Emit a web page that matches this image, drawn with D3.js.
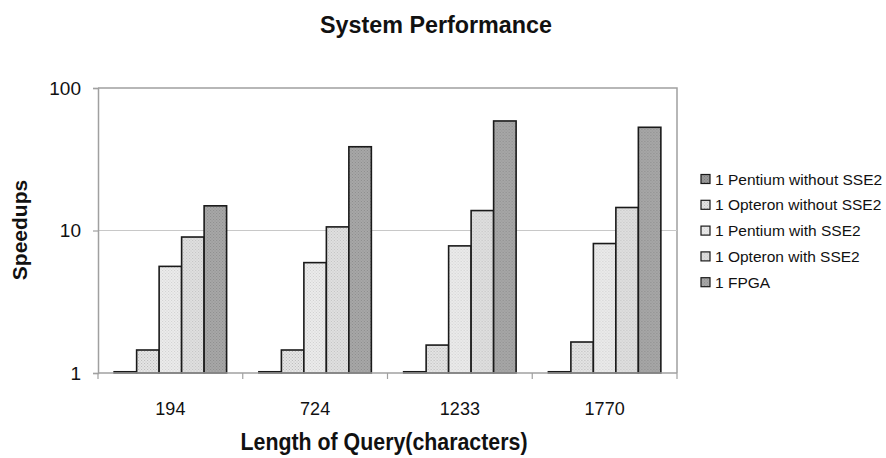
<!DOCTYPE html>
<html>
<head>
<meta charset="utf-8">
<script src="https://cdn.jsdelivr.net/npm/d3@7"></script>
<style>
  html, body { margin: 0; padding: 0; background: #fff; }
  svg { display: block; }
  text { font-family: "Liberation Sans", Arial, sans-serif; fill: #111; }
</style>
</head>
<body>
<svg id="chart" width="886" height="458"></svg>
<script>
// Query lengths (characters) on the x axis
const categories = ["194", "724", "1233", "1770"];

// Processor configurations, in drawing order within each group
const seriesNames = [
  "1 Pentium without SSE2",
  "1 Opteron without SSE2",
  "1 Pentium with SSE2",
  "1 Opteron with SSE2",
  "1 FPGA"
];

// Speedups per configuration, one value per query length
const pentiumNoSSE2 = [1.02, 1.02, 1.02, 1.02];
const opteronNoSSE2 = [1.45, 1.45, 1.57, 1.65];
const pentiumSSE2   = [5.6, 5.95, 7.8, 8.1];
const opteronSSE2   = [9.0, 10.6, 13.8, 14.5];
const fpga          = [14.9, 38.7, 58.7, 53.0];

const seriesValues = [pentiumNoSSE2, opteronNoSSE2, pentiumSSE2, opteronSSE2, fpga];

// Log axis tick values
const yTicks = [1, 10, 100];

const svg = d3.select("#chart");
const plot = { left: 98, top: 88, right: 677, bottom: 373 };

// Fill textures for each configuration
const textures = [
  { base: "#9a9a9a", dot: "#7d7d7d" },
  { base: "#e6e6e6", dot: "#b8b8b8" },
  { base: "#ececec", dot: "#cfcfcf" },
  { base: "#e0e0e0", dot: "#c2c2c2" },
  { base: "#a8a8a8", dot: "#8c8c8c" }
];
const defs = svg.append("defs");
textures.forEach((t, i) => {
  const p = defs.append("pattern")
    .attr("id", "tex" + i)
    .attr("patternUnits", "userSpaceOnUse")
    .attr("width", 3).attr("height", 3);
  p.append("rect").attr("width", 3).attr("height", 3).attr("fill", t.base);
  p.append("rect").attr("x", 0).attr("y", 0).attr("width", 1).attr("height", 1).attr("fill", t.dot);
  p.append("rect").attr("x", 1.5).attr("y", 1.5).attr("width", 1).attr("height", 1).attr("fill", t.dot);
});

const x0 = d3.scaleBand()
  .domain(categories)
  .range([plot.left, plot.right])
  .paddingInner(0.223)
  .paddingOuter(0.1115);

const x1 = d3.scaleBand()
  .domain(d3.range(seriesNames.length))
  .range([0, x0.bandwidth()]);

const y = d3.scaleLog()
  .domain([1, 100])
  .range([plot.bottom, plot.top]);

// Plot frame (top and right edges)
svg.append("path")
  .attr("d", `M${plot.left},${plot.top}H${plot.right}V${plot.bottom}`)
  .attr("fill", "none")
  .attr("stroke", "#a0a0a0")
  .attr("stroke-width", 1.5);

// Gridline at intermediate decade
svg.append("g")
  .selectAll("line")
  .data(yTicks.filter(v => v > 1 && v < 100))
  .join("line")
  .attr("x1", plot.left).attr("x2", plot.right)
  .attr("y1", d => y(d)).attr("y2", d => y(d))
  .attr("stroke", "#c8c8c8")
  .attr("stroke-width", 1);

// Bars
const groups = svg.append("g")
  .selectAll("g")
  .data(categories)
  .join("g")
  .attr("transform", d => `translate(${x0(d)},0)`);

groups.selectAll("rect")
  .data((c, ci) => seriesValues.map((vals, si) => ({ si, v: vals[ci] })))
  .join("rect")
  .attr("x", d => x1(d.si))
  .attr("width", x1.bandwidth())
  .attr("y", d => y(d.v))
  .attr("height", d => y(1) - y(d.v))
  .attr("fill", d => `url(#tex${d.si})`)
  .attr("stroke", "#1a1a1a")
  .attr("stroke-width", 1.6);

// Y axis
const yAxis = svg.append("g")
  .attr("transform", `translate(${plot.left},0)`)
  .call(d3.axisLeft(y).tickValues(yTicks).tickFormat(d3.format("d")).tickSize(5).tickPadding(12));
yAxis.select(".domain").attr("stroke", "#a0a0a0").attr("stroke-width", 1.5);
yAxis.selectAll(".tick line").attr("stroke", "#a0a0a0").attr("stroke-width", 1.2);
yAxis.selectAll(".tick text")
  .attr("font-size", 19)
  .attr("font-family", "'Liberation Sans', Arial, sans-serif")
  .attr("fill", "#111");

// X axis: category labels, with ticks at group boundaries
const xAxis = svg.append("g")
  .attr("transform", `translate(0,${plot.bottom})`)
  .call(d3.axisBottom(x0).tickSize(0).tickPadding(29));
xAxis.select(".domain").remove();
xAxis.selectAll(".tick text")
  .attr("font-size", 18)
  .attr("font-family", "'Liberation Sans', Arial, sans-serif")
  .attr("fill", "#111");

const boundaries = categories.map(c => x0(c) - x0.step() * x0.paddingInner() / 2)
  .concat([x0(categories[categories.length - 1]) + x0.bandwidth() + x0.step() * x0.paddingInner() / 2]);
svg.append("line")
  .attr("x1", plot.left).attr("x2", plot.right)
  .attr("y1", plot.bottom).attr("y2", plot.bottom)
  .attr("stroke", "#a0a0a0").attr("stroke-width", 1.5);
svg.append("g")
  .selectAll("line")
  .data(boundaries)
  .join("line")
  .attr("x1", d => d).attr("x2", d => d)
  .attr("y1", plot.bottom).attr("y2", plot.bottom + 6)
  .attr("stroke", "#a0a0a0").attr("stroke-width", 1.2);

// Title and axis titles (condensed bold)
svg.append("text")
  .attr("x", 436).attr("y", 33)
  .attr("text-anchor", "middle")
  .attr("font-size", 23).attr("font-weight", "bold")
  .attr("textLength", 232).attr("lengthAdjust", "spacingAndGlyphs")
  .text("System Performance");

svg.append("text")
  .attr("x", 384).attr("y", 450)
  .attr("text-anchor", "middle")
  .attr("font-size", 23).attr("font-weight", "bold")
  .attr("textLength", 287).attr("lengthAdjust", "spacingAndGlyphs")
  .text("Length of Query(characters)");

svg.append("text")
  .attr("transform", "translate(27,230) rotate(-90)")
  .attr("text-anchor", "middle")
  .attr("font-size", 21).attr("font-weight", "bold")
  .text("Speedups");

// Legend
const legend = svg.append("g")
  .selectAll("g")
  .data(seriesNames)
  .join("g")
  .attr("transform", (d, i) => `translate(701,${179 + i * 25.8})`);
legend.append("rect")
  .attr("x", 0).attr("y", -4.5)
  .attr("width", 9).attr("height", 9)
  .attr("fill", (d, i) => `url(#tex${i})`)
  .attr("stroke", "#1a1a1a").attr("stroke-width", 1.2);
legend.append("text")
  .attr("x", 14).attr("y", 5.5)
  .attr("font-size", 15.5)
  .attr("fill", "#222")
  .text(d => d);
</script>
</body>
</html>
